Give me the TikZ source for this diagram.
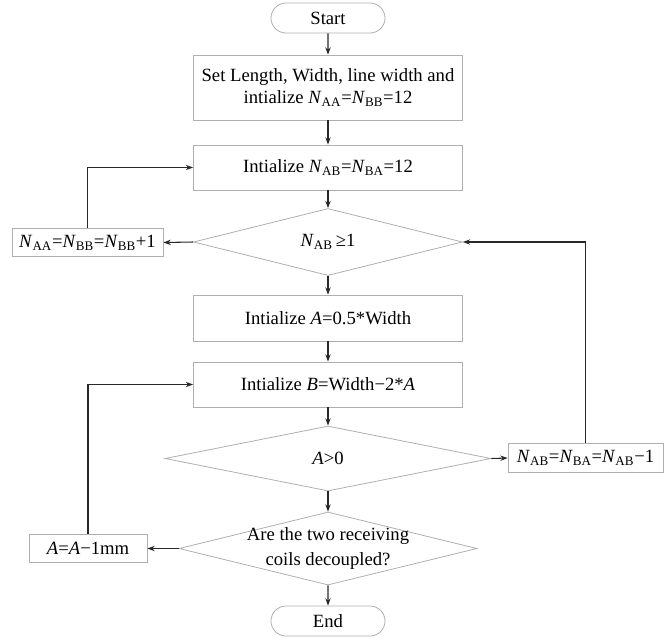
\documentclass[tikz,border=0pt]{standalone}
\usepackage{fontspec}
\setmainfont{Liberation Serif}
\usepackage{tikz}
\usetikzlibrary{arrows.meta, shapes.geometric, shapes.misc}

\definecolor{boxgray}{RGB}{175,175,175}
\definecolor{linegray}{RGB}{40,40,40}

\newcommand{\Nv}[1]{\textit{N}\textsubscript{#1}}

\begin{document}
\begin{tikzpicture}[x=0.75pt, y=-0.75pt,
  font=\fontsize{14}{17}\selectfont,
  terminal/.style={rounded rectangle, draw=boxgray, line width=0.6pt,
    minimum width=85.5pt, minimum height=22.5pt, inner sep=0pt},
  process/.style={rectangle, draw=boxgray, line width=0.6pt, align=center,
    minimum width=201.75pt, inner sep=0pt},
  sidebox/.style={rectangle, draw=boxgray, line width=0.6pt,
    minimum height=21.5pt, inner sep=0pt},
  decision/.style={diamond, draw=boxgray, line width=0.6pt, shape aspect=4,
    inner sep=0pt},
  flow/.style={-{Stealth[length=5.5pt, width=4pt]}, line width=0.8pt, draw=linegray}]

\useasboundingbox (0,0) rectangle (669,637);

% -- Main column -------------------------------------------------------------
\node[terminal] (start) at (328,18) {Start};
\node[process, minimum height=48.75pt] (setup) at (328,87.5)
  {Set Length, Width, line width and\\intialize \Nv{AA}=\Nv{BB}=12};
\node[process, minimum height=33.75pt] (initab) at (328,167.5)
  {Intialize \Nv{AB}=\Nv{BA}=12};
\node[decision, minimum width=201.75pt, minimum height=50.25pt] (testab) at (328,242)
  {\Nv{AB}\,≥1};
\node[process, minimum height=34.5pt] (inita) at (328,318)
  {Intialize \textit{A}=0.5*Width};
\node[process, minimum height=33.75pt] (initb) at (328,384.5)
  {Intialize \textit{B}=Width−2*\textit{A}};
\node[decision, minimum width=244.5pt, minimum height=48.75pt] (testa) at (328,458.5)
  {\textit{A}>0};
\node[decision, minimum width=223.5pt, minimum height=54.75pt,
  label={[align=center, font=\fontsize{14}{19}\selectfont]center:Are the two receiving\\coils decoupled?}]
  (testcoil) at (328,548.5) {};
\node[terminal] (stop) at (328,621) {End};

% -- Side boxes --------------------------------------------------------------
\node[sidebox, minimum width=113.25pt] (incaa) at (87.5,242.5)
  {\Nv{AA}=\Nv{BB}=\Nv{BB}+1};
\node[sidebox, minimum width=116.25pt] (decab) at (585.5,458)
  {\Nv{AB}=\Nv{BA}=\Nv{AB}−1};
\node[sidebox, minimum width=88.5pt] (deca) at (88,548.5)
  {\textit{A}=\textit{A}−1mm};

% -- Connectors --------------------------------------------------------------
\draw[flow] (start) -- (setup);
\draw[flow] (setup) -- (initab);
\draw[flow] (initab) -- (testab);
\draw[flow] (testab) -- (inita);
\draw[flow] (inita) -- (initb);
\draw[flow] (initb) -- (testa);
\draw[flow] (testa) -- (testcoil);
\draw[flow] (testcoil) -- (stop);

% loops
\draw[flow] (testab.west) -- (incaa.east);
\draw[flow] (incaa.north) |- (initab.west);
\draw[flow] (testa.east) -- (decab.west);
\draw[flow] (decab.north) |- (testab.east);
\draw[flow] (testcoil.west) -- (deca.east);
\draw[flow] (deca.north) |- (initb.west);

\end{tikzpicture}
\end{document}
